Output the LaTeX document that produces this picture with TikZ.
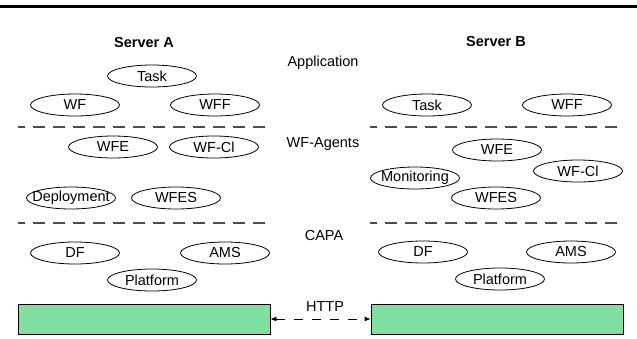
\documentclass[tikz,border=0pt]{standalone}
\usepackage{fontspec}
\setmainfont{Liberation Sans}
\usetikzlibrary{arrows.meta,positioning}
\usetikzlibrary{shapes.geometric}

\definecolor{hostgreen}{RGB}{128,224,160}

\begin{document}
\begin{tikzpicture}[
    x=1pt, y=-1pt,
    every node/.style={font=\fontsize{14.5}{17}\selectfont},
    comp/.style={draw,ellipse,line width=0.8pt,inner sep=0pt,
                 minimum width=89pt,minimum height=22pt},
    layer/.style={},
    server/.style={font=\fontsize{14.5}{17}\selectfont\bfseries},
    host/.style={draw,fill=hostgreen,line width=0.8pt,
                 minimum width=252pt,minimum height=30pt,inner sep=0pt},
    sep/.style={dashed,dash pattern=on 12pt off 8pt,dash phase=5pt,
                line width=1.2pt,black!70},
    link/.style={{Latex[length=6pt,width=5pt]}-{Latex[length=6pt,width=5pt]},
                 dashed,dash pattern=on 9pt off 9pt,line width=0.8pt},
]
\useasboundingbox (0,0) rectangle (637,338);

\draw[line width=3pt] (0,6) -- (637,6);

%----------------------------------
% Layers
%----------------------------------

\node[layer] (lApp) at (323,63) {Application};
\node[layer] (lAgents) at (323,144) {WF-Agents};
\node[layer] (lCapa) at (324,236) {CAPA};
\node[layer] (lHttp) at (325,307) {HTTP};

\draw[sep] (18,127) -- (270,127);
\draw[sep] (370,127) -- (622,127);
\draw[sep] (18,223) -- (270,223);
\draw[sep] (370,223) -- (622,223);

%----------------------------------
% Server A
%----------------------------------

\node[server] (aName) at (144,43) {Server A};

\node[comp] (aTask) at (152,76) {Task};
\node[comp] (aWF) at (75,105) {WF};
\node[comp] (aWFF) at (215,105) {WFF};

\node[comp] (aWFE) at (113,147) {WFE};
\node[comp] (aWFCl) at (214,147) {WF-Cl};
\node[comp] (aDeploy) at (71,198) {\makebox[0pt]{Deployment}};
\node[comp] (aWFES) at (176,198) {WFES};

\node[comp] (aDF) at (75,253) {DF};
\node[comp] (aAMS) at (225,253) {AMS};
\node[comp] (aPlatform) at (152,280) {Platform};

\node[host] (aHost) at (144,319) {};

%----------------------------------
% Server B
%----------------------------------

\node[server] (bName) at (496,42) {Server B};

\node[comp] (bTask) at (427,105) {Task};
\node[comp] (bWFF) at (567,105) {WFF};

\node[comp] (bWFE) at (497,150) {WFE};
\node[comp] (bWFCl) at (578,171) {WF-Cl};
\node[comp] (bMonitor) at (415,178) {\makebox[0pt]{Monitoring}};
\node[comp] (bWFES) at (496,198) {WFES};

\node[comp] (bDF) at (423,252) {DF};
\node[comp] (bAMS) at (571,252) {AMS};
\node[comp] (bPlatform) at (500,279) {Platform};

\node[host] (bHost) at (497,319) {};

\draw[link] (aHost) -- (bHost);

\end{tikzpicture}
\end{document}
